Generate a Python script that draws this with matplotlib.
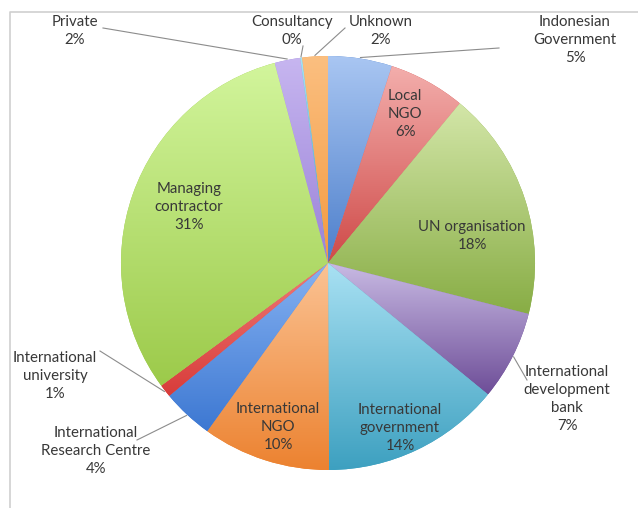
import numpy as np
import matplotlib
matplotlib.use("Agg")
import matplotlib.pyplot as plt
from matplotlib.colors import to_rgb

plt.rcParams['font.family'] = ['Lato', 'DejaVu Sans']

# data
labels = ['Indonesian\nGovernment', 'Local\nNGO', 'UN organisation',
          'International\ndevelopment\nbank', 'International\ngovernment',
          'International\nNGO', 'International\nResearch Centre',
          'International\nuniversity', 'Managing\ncontractor', 'Private',
          'Consultancy', 'Unknown']
values = [5, 6, 18, 7, 14, 10, 4, 1, 31, 2, 0.15, 2]

# gradient colours, top (light) and bottom (dark)
top_cols = ['#a9c6f2', '#f3aeac', '#d3e6a8', '#c9bbe4', '#a9e1f3', '#fbc394',
            '#86b2f2', '#ef7a78', '#d2f59c', '#c7b6f0', '#a9e1f3', '#fbbf80']
bot_cols = ['#4d7fcb', '#cf4a48', '#88ad45', '#6e4e98', '#3da0c0', '#ec8230',
            '#3d78d2', '#d83c3a', '#9cca4a', '#9a82d8', '#3da0c0', '#f49a40']

# label centres in pixels (x, y from top) and leader line starts
text_pos = [(575, 40), (405, 114), (472, 236), (567, 399), (400, 428),
            (278, 427), (96, 451), (55, 376), (189, 207), (75, 31),
            (292, 31), (381, 31)]
leader_from = [(499, 48), None, None, (527, 380), None, None, (137, 440),
               (100, 351), None, (103, 28), (303, 46), (345, 28)]

W, H = 638, 508
CX, CY, R = 328, 263, 207


def px(x, y):
    return (x - CX) / R, (CY - y) / R


fig = plt.figure(figsize=(W / 100, H / 100), dpi=100)
ax = fig.add_axes([0, 0, 1, 1])

wedges, _ = ax.pie(values, startangle=90, counterclock=False,
                   colors=bot_cols, radius=1,
                   wedgeprops=dict(linewidth=0))

t = np.linspace(0, 1, 256)[:, None, None]
for w, c1, c2 in zip(wedges, top_cols, bot_cols):
    bb = w.get_path().get_extents()
    img = np.array(to_rgb(c2)) * (1 - t) + np.array(to_rgb(c1)) * t
    im = ax.imshow(img, extent=[bb.x0, bb.x1, bb.y0, bb.y1], origin='lower',
                   aspect='auto', interpolation='bilinear', zorder=2)
    im.set_clip_path(w)

for i, (w, lab, v) in enumerate(zip(wedges, labels, values)):
    x, y = px(*text_pos[i])
    ax.text(x, y, f"{lab}\n{round(v)}%", ha='center', va='center',
            fontsize=10.8, color='#383838', linespacing=1.38, zorder=5)
    if leader_from[i] is not None:
        ang = np.deg2rad((w.theta1 + w.theta2) / 2)
        ex, ey = 1.005 * np.cos(ang), 1.005 * np.sin(ang)
        sx, sy = px(*leader_from[i])
        ax.plot([sx, ex], [sy, ey], color='#8c8c8c', lw=0.8, zorder=4)

# chart frame
fx0, fy0 = px(10, 12)
fx1, fy1 = px(W, H)
ax.plot([fx0, fx0, fx1], [fy1, fy0, fy0], color='#cfcfcf', lw=1.2, zorder=1)

x0, y0 = px(0, H)
x1, y1 = px(W, 0)
ax.set_xlim(x0, x1)
ax.set_ylim(y0, y1)
ax.set_aspect('auto')
ax.axis('off')

fig.savefig('out.png', dpi=100)
